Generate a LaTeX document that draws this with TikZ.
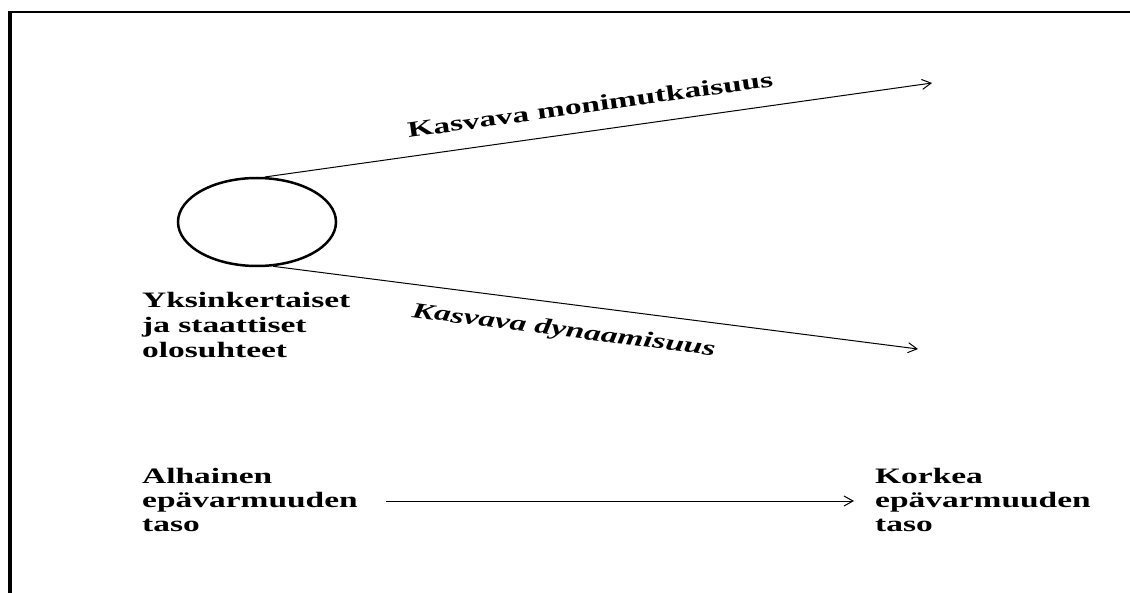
\documentclass[tikz,border=0pt]{standalone}
\usepackage{fontspec}
\newfontfamily\labfont[FakeStretch=1.52]{Liberation Serif}
\usetikzlibrary{shapes.geometric,arrows.meta}
\begin{document}
\begin{tikzpicture}[x=1pt,y=-1pt,
  lab/.style={font=\labfont\bfseries\fontsize{22}{25}\selectfont, inner sep=0pt, align=left, anchor=north west},
  rlab/.style={font=\labfont\bfseries\fontsize{22}{25}\selectfont, inner sep=0pt, sloped},
  ilab/.style={font=\labfont\bfseries\itshape\fontsize{22}{25}\selectfont, inner sep=0pt, sloped},
  arr/.style={line width=1pt, -{Straight Barb[length=9pt,width=10pt]}},
  ell/.style={draw, ellipse, line width=2.5pt, minimum width=158pt, minimum height=88pt, inner sep=0pt}]
\useasboundingbox (0,0) rectangle (1130,593);
\fill[white] (0,0) rectangle (1130,593);
% frame
\draw[line width=2pt] (8,12) -- (1130,12);
\draw[line width=4pt] (10,11) -- (10,593);
% nodes
\node[ell] (e) at (257,222) {};
\node[lab] (yk) at (142,292) {Yksinkertaiset\\ja staattiset\\olosuhteet};
\node[lab, font=\labfont\bfseries\fontsize{22}{24}\selectfont] (al) at (142,468) {Alhainen\\epävarmuuden\\taso};
\node[lab, font=\labfont\bfseries\fontsize{22}{24}\selectfont] (ko) at (875,468) {Korkea\\epävarmuuden\\taso};
\coordinate (t1) at (932,83);
\coordinate (t2) at (918,349);
\coordinate (h1) at (386,501);
\coordinate (h2) at (854,501);
% connectors
\draw[arr] (e.80) -- (t1) node[rlab, pos=0.493, above=18pt] {Kasvava monimutkaisuus};
\draw[arr] (e.-70) -- (t2) node[ilab, pos=0.456, below=17pt] {Kasvava dynaamisuus};
\draw[arr] (h1) -- (h2);
\end{tikzpicture}
\end{document}
